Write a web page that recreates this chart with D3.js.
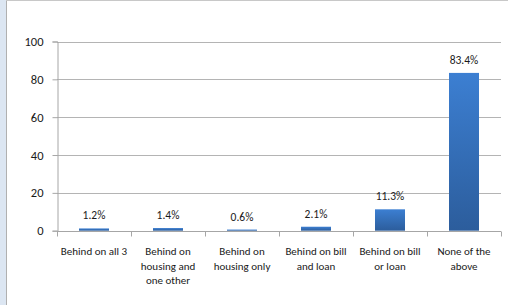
<!DOCTYPE html>
<html><head><meta charset="utf-8">
<script src="https://cdn.jsdelivr.net/npm/d3@7"></script>
<style>body{margin:0;background:#fff;}svg{display:block;font-family:Carlito,Lato,"Open Sans",sans-serif;}</style>
</head><body>
<script>
const categories = [["Behind on all 3"],["Behind on","housing and","one other"],["Behind on","housing only"],["Behind on bill","and loan"],["Behind on bill","or loan"],["None of the","above"]];
const values = [1.2, 1.4, 0.6, 2.1, 11.3, 83.4];
const yTicks = [0, 20, 40, 60, 80, 100];

const W = 508, H = 305;
const svg = d3.select("body").append("svg").attr("width", W).attr("height", H);
const defs = svg.append("defs");
const g = defs.append("linearGradient").attr("id","bg").attr("x1",0).attr("y1",0).attr("x2",0).attr("y2",1);
g.append("stop").attr("offset","0%").attr("stop-color","#3c7fd2");
g.append("stop").attr("offset","100%").attr("stop-color","#2c5d9c");

// frame
svg.append("rect").attr("x",0).attr("y",0).attr("width",6).attr("height",H).attr("fill","#dce6f2");
svg.append("line").attr("x1",6.5).attr("x2",6.5).attr("y1",0).attr("y2",H).attr("stroke","#b0b0b0");
svg.append("line").attr("x1",6).attr("x2",W).attr("y1",0.5).attr("y2",0.5).attr("stroke","#c8c8c8");

const x0 = 57, x1 = 501;
const x = d3.scaleBand().domain(d3.range(categories.length)).range([x0, x1]).paddingInner(0).paddingOuter(0);
const y = d3.scaleLinear().domain([0, 100]).range([230.7, 41.5]);

// gridlines
svg.append("g").selectAll("line").data(yTicks.filter(d=>d>0)).join("line")
  .attr("x1", x0).attr("x2", x1).attr("y1", d=>Math.round(y(d))+0.5).attr("y2", d=>Math.round(y(d))+0.5)
  .attr("stroke","#b4b4b4").attr("stroke-width",1);

// y axis
const yAxis = svg.append("g").attr("transform",`translate(${x0+0.5},0)`)
  .call(d3.axisLeft(y).tickValues(yTicks).tickSize(5).tickPadding(9));
yAxis.select(".domain").attr("stroke","#a6a6a6");
yAxis.selectAll(".tick line").attr("stroke","#a6a6a6");
yAxis.selectAll(".tick text").attr("font-size","12.5px").attr("fill","#1a1a1a").attr("font-family","Carlito,Lato,sans-serif");

// bars
const bw = 30;
svg.append("g").selectAll("rect").data(values).join("rect")
  .attr("x", (d,i)=> x(i) + x.bandwidth()/2 - bw/2)
  .attr("width", bw)
  .attr("y", d=> y(d))
  .attr("height", d=> y(0)-y(d))
  .attr("fill","url(#bg)");

// x axis
const xa = svg.append("g").attr("transform",`translate(0,${Math.round(y(0))+0.5})`);
xa.append("line").attr("x1",x0).attr("x2",x1).attr("stroke","#a6a6a6");
xa.selectAll("line.t").data(d3.range(categories.length+1)).join("line").attr("class","t")
  .attr("x1", i=> Math.round(x0 + i*x.bandwidth())+0.5).attr("x2", i=> Math.round(x0 + i*x.bandwidth())+0.5)
  .attr("y1",0).attr("y2",5).attr("stroke","#a6a6a6");

// category labels
const cl = svg.append("g").selectAll("text").data(categories).join("text")
  .attr("x",(d,i)=> x(i)+x.bandwidth()/2).attr("y", 255)
  .attr("text-anchor","middle").attr("font-size","11px").attr("fill","#1a1a1a");
cl.each(function(d){
  const t = d3.select(this);
  d.forEach((s,j)=> t.append("tspan").attr("x", t.attr("x")).attr("dy", j===0?0:14.5).text(s));
});

// value labels
svg.append("g").selectAll("text").data(values).join("text")
  .attr("x",(d,i)=> x(i)+x.bandwidth()/2).attr("y", d=> y(d)-9)
  .attr("text-anchor","middle").attr("font-size","11.5px").attr("fill","#1a1a1a")
  .text(d=> d.toFixed(1)+"%");
</script>
</body></html>
